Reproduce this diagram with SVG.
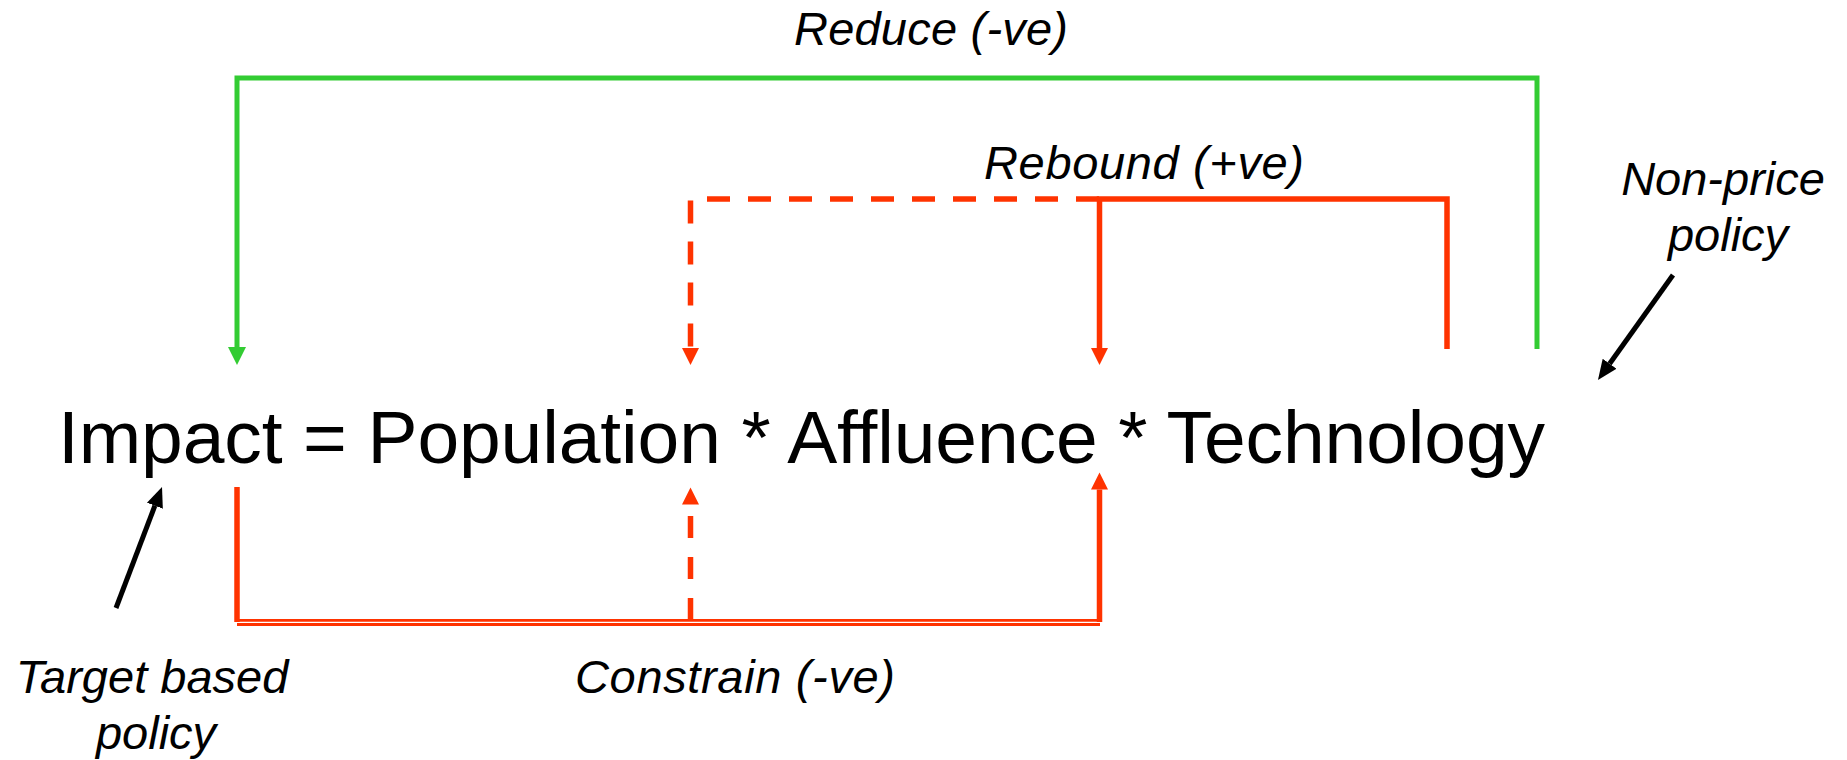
<svg xmlns="http://www.w3.org/2000/svg" width="1847" height="760" viewBox="0 0 1847 760">
  <style>
    .bg { fill: #ffffff; }
    .eq { font-family: "Liberation Sans", Arial, sans-serif; font-size: 75px; fill: #000000; }
    .lbl { font-family: "Liberation Sans", Arial, sans-serif; font-size: 47px; font-style: italic; fill: #000000; }
    .green { fill: none; stroke: #33cc33; stroke-width: 5; }
    .red { fill: none; stroke: #ff3300; stroke-width: 5.5; }
    .red-thin { fill: none; stroke: #ff3300; stroke-width: 2.8; }
    .dash { stroke-dasharray: 23 18; }
    .pointer { fill: none; stroke: #000000; stroke-width: 5; }
  </style>
  <defs>
    <marker id="head-green" viewBox="0 -9 18 18" markerWidth="18" markerHeight="18" refX="0" refY="0" orient="auto" markerUnits="userSpaceOnUse">
      <path d="M0,-9 L18,0 L0,9 z" fill="#33cc33"/>
    </marker>
    <marker id="head-red" viewBox="0 -9 18 18" markerWidth="18" markerHeight="18" refX="0" refY="0" orient="auto" markerUnits="userSpaceOnUse">
      <path d="M0,-8.5 L17,0 L0,8.5 z" fill="#ff3300"/>
    </marker>
    <marker id="head-black" viewBox="0 -9 20 18" markerWidth="20" markerHeight="18" refX="0" refY="0" orient="auto" markerUnits="userSpaceOnUse">
      <path d="M0,-8.5 L20,0 L0,8.5 z" fill="#000000"/>
    </marker>
  </defs>

  <rect class="bg" x="0" y="0" width="1847" height="760"/>

  <!-- the equation -->
  <g id="equation">
    <text class="eq" x="58" y="463" textLength="1487" lengthAdjust="spacing">Impact = Population * Affluence * Technology</text>
  </g>

  <!-- feedback labels -->
  <g id="label-reduce">
    <text class="lbl" x="794" y="45" textLength="274" lengthAdjust="spacing">Reduce (-ve)</text>
  </g>
  <g id="label-rebound">
    <text class="lbl" x="984" y="179" textLength="320" lengthAdjust="spacing">Rebound (+ve)</text>
  </g>
  <g id="label-constrain">
    <text class="lbl" x="575" y="693" textLength="320" lengthAdjust="spacing">Constrain (-ve)</text>
  </g>
  <g id="label-target">
    <text class="lbl" text-anchor="middle"><tspan x="152" y="693">Target based</tspan><tspan x="156" y="749">policy</tspan></text>
  </g>
  <g id="label-nonprice">
    <text class="lbl" text-anchor="middle"><tspan x="1723" y="195">Non-price</tspan><tspan x="1728" y="251">policy</tspan></text>
  </g>

  <g id="connectors">
    <!-- Reduce: Technology back to Impact -->
    <path class="green" d="M1537,349 V78 H237 V347" marker-end="url(#head-green)"/>

    <!-- Rebound: Technology to Affluence (solid) and Population (dashed) -->
    <path class="red" d="M1447,349 V199 H1099.5 V348" marker-end="url(#head-red)"/>
    <path class="red dash" d="M1099,199 H690.5 V348" marker-end="url(#head-red)"/>

    <!-- Constrain: Impact to Affluence (solid) and Population (dashed) -->
    <path class="red" d="M237,487 V622"/>
    <path class="red-thin" d="M237,620.3 H1099.5"/>
    <path class="red-thin" d="M237,624.5 H1100"/>
    <path class="red" d="M1099.5,622 V489.5" marker-end="url(#head-red)"/>
    <path class="red" style="stroke-dasharray: 22 19" d="M690.5,620 V504.5" marker-end="url(#head-red)"/>

    <!-- policy pointers -->
    <path class="pointer" d="M116,608 L154.9,505.7" marker-end="url(#head-black)"/>
    <path class="pointer" d="M1673,275 L1609.6,363.7" marker-end="url(#head-black)"/>
  </g>
</svg>
